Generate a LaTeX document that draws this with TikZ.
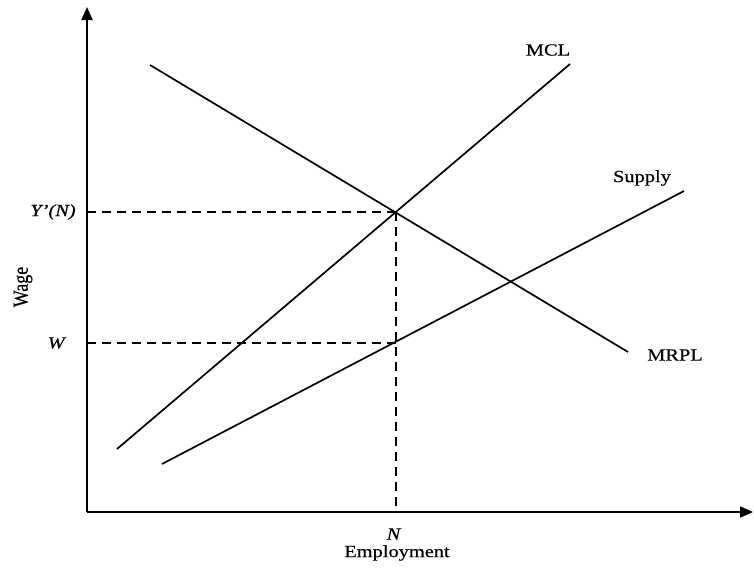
\documentclass[tikz,border=0pt]{standalone}
\usepackage{fontspec}
\setmainfont[FakeStretch=1.2,FakeBold=0.5]{Liberation Serif}
\newfontfamily\plainserif[FakeBold=0.5]{Liberation Serif}
\usetikzlibrary{arrows.meta}
\begin{document}
\begin{tikzpicture}[x=1pt,y=-1pt,
  axis/.style={line width=1.8pt,-{Triangle[length=13pt,width=11pt]}},
  curve/.style={line width=1.7pt},
  guide/.style={line width=1.4pt,dash pattern=on 9pt off 6pt},
  lbl/.style={font=\fontsize{17}{19}\selectfont,inner sep=0pt}]
\useasboundingbox (0,0) rectangle (754,568);
\coordinate (O) at (87,512);
\coordinate (ytip) at (87,7);
\coordinate (xtip) at (753,512);
\draw[axis] (O) -- (ytip);
\draw[axis] (O) -- (xtip);
% curves
\coordinate (mcl0) at (117,449);
\coordinate (mcl1) at (570,64);
\coordinate (mrpl0) at (150,65);
\coordinate (mrpl1) at (628,352);
\coordinate (sup0) at (162,464);
\coordinate (sup1) at (684,191);
\draw[curve] (mcl0) -- (mcl1);
\draw[curve] (mrpl0) -- (mrpl1);
\draw[curve] (sup0) -- (sup1);
% guides
\coordinate (E) at (396,212);
\coordinate (F) at (396,343);
\coordinate (yE) at (87,212);
\coordinate (yF) at (87,343);
\coordinate (xN) at (396,512);
\draw[guide] (yE) -- (E);
\draw[guide] (yF) -- (F);
\draw[guide] (E) -- (xN);
% labels
\node[lbl] (lYN) at (53,212) {\textit{Y'(N)}};
\node[lbl] (lW) at (57,343) {\textit{W}};
\node[lbl,rotate=90] (lwage) at (23,287) {\plainserif\fontsize{18}{20}\selectfont\scalebox{1}[1.2]{Wage}};
\node[lbl] (lN) at (394,534) {\textit{N}};
\node[lbl] (lemp) at (397,553) {Employment};
\node[lbl] (lMCL) at (548,50) {MCL};
\node[lbl] (lSup) at (642,178) {Supply};
\node[lbl] (lMRPL) at (675,355) {MRPL};
\end{tikzpicture}
\end{document}
